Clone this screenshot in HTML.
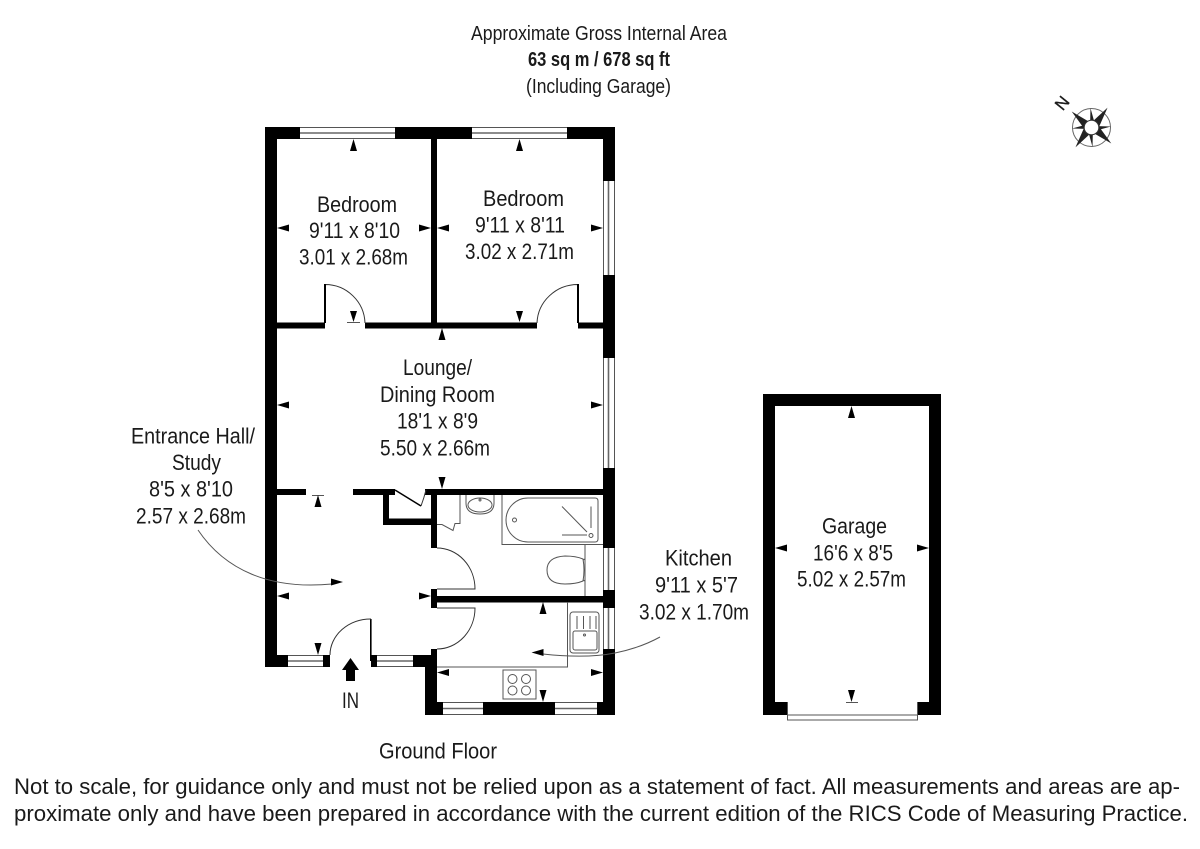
<!DOCTYPE html>
<html><head><meta charset="utf-8"><style>
html,body{margin:0;padding:0;background:#fff;width:1200px;height:849px;overflow:hidden}
svg{display:block}
text{font-family:"Liberation Sans",sans-serif;fill:#1a1a1a;font-size:22px}
.l{fill:none;stroke:#555;stroke-width:1}
.d{fill:none;stroke:#333;stroke-width:1}
.m{fill:none;stroke:#666;stroke-width:1.6}
</style></head><body>
<svg width="1200" height="849" viewBox="0 0 1200 849" xmlns="http://www.w3.org/2000/svg">
<!-- walls -->
<g fill="#000">
<rect x="265" y="127" width="350" height="12"/>
<rect x="265" y="127" width="12" height="540"/>
<rect x="603" y="127" width="12" height="588"/>
<rect x="431" y="139" width="6" height="187"/>
<rect x="277" y="322.5" width="48" height="6"/>
<rect x="365" y="322.5" width="172" height="6"/>
<rect x="578" y="322.5" width="25" height="6"/>
<rect x="277" y="489" width="29" height="6"/>
<rect x="353" y="489" width="42" height="6"/>
<rect x="425" y="489" width="178" height="6"/>
<rect x="383" y="495" width="6" height="30"/>
<rect x="383" y="518.5" width="54" height="6.5"/>
<rect x="431" y="495" width="6" height="53"/>
<rect x="431" y="589" width="6" height="19"/>
<rect x="431" y="596" width="172" height="6.5"/>
<rect x="431" y="649" width="6" height="10"/>
<rect x="265" y="655" width="65" height="12"/>
<rect x="371" y="655" width="66" height="12"/>
<rect x="425" y="655" width="12" height="60"/>
<rect x="425" y="702" width="190" height="13"/>
<path fill-rule="evenodd" d="M763 394H941V715H917V702H929V406H775V702H787V715H763Z"/>
<rect x="370" y="619" width="1.6" height="42"/>
</g>
<!-- windows -->
<g fill="#fff">
<rect x="300" y="127" width="95" height="12"/><rect x="472" y="127" width="95" height="12"/>
<rect x="603" y="181" width="12" height="94"/><rect x="603" y="358" width="12" height="110"/>
<rect x="603" y="548" width="12" height="42"/><rect x="603" y="608" width="12" height="41"/>
<rect x="288" y="655" width="35" height="12"/><rect x="377" y="655" width="36" height="12"/>
<rect x="443" y="702" width="40" height="13"/><rect x="555" y="702" width="42" height="13"/>
</g>
<g class="l">
<path d="M300 127.5H395M300 138.5H395M472 127.5H567M472 138.5H567"/>
<path d="M603.5 181V275M614.5 181V275M603.5 358V468M614.5 358V468"/>
<path d="M603.5 548V590M614.5 548V590M603.5 608V649M614.5 608V649"/>
<path d="M288 655.5H323M288 666.5H323M377 655.5H413M377 666.5H413"/>
<path d="M443 702.5H483M443 714.5H483M555 702.5H597M555 714.5H597"/>
<path d="M787.5 702V720H917.5V702M787 715H917"/>
</g>
<g class="m">
<path d="M300 133H395M472 133H567"/>
<path d="M608.5 181V275M608.5 358V468M608.5 548V590M608.5 608V649"/>
<path d="M288 661H323M377 661H413M443 708.5H483M555 708.5H597"/>
</g>
<!-- doors -->
<g class="d">
<path d="M325 323V284.5A40 40 0 0 1 365 323" />
<path d="M578 323V284.5A41 40 0 0 0 537 323" />
<path d="M437 548A38 41 0 0 1 475 589H437M437 649A38 41 0 0 0 475 608H437"/>
<path d="M371 619A41 36 0 0 0 330 655"/>
<path d="M421 506Q424 498 426 490"/>
</g>
<path d="M395 490L421 506" stroke="#000" stroke-width="1.5" fill="none"/>
<path d="M325 284V323M578 284V323" stroke="#000" stroke-width="2" fill="none"/>
<!-- fixtures -->
<g class="l">
<path d="M460 495V523.5H455L453 530.5L442 524.5H437"/>
<path d="M466 495V503Q466 514 480 514Q494 514 494 503V495"/>
<ellipse cx="480" cy="505" rx="12" ry="7"/>
<circle cx="480" cy="500" r="1"/>
<path d="M502 495V544.5H603M585 544.5V596"/>
<path d="M528 498H595Q598 498 598 501V539Q598 542 595 542H528A22 22 0 0 1 528 498Z"/>
<circle cx="514.5" cy="520" r="2"/><circle cx="591" cy="535.5" r="2"/>
<path d="M562 506.5L587 532M591 506.5V528M562 535H587"/>
<path d="M583 559Q576 556 565 556Q547 557 547 570Q547 584 565 584Q576 584 583 581Q585 570 583 559Z"/>
<path d="M583 560L585 559M583 580L585 581"/>
<path d="M567.5 602V667H437"/>
<rect x="570" y="612" width="29" height="41" rx="3"/>
<rect x="573" y="631" width="24" height="19" rx="2"/>
<path d="M577 616V629M583.5 616V629M590 616V629M596 616V629"/>
<circle cx="584.5" cy="635" r="1"/>
<rect x="503" y="670" width="33" height="29"/>
<circle cx="512.5" cy="679" r="4.5"/><circle cx="526" cy="679" r="4.5"/>
<circle cx="512.5" cy="690.5" r="4.5"/><circle cx="526" cy="690.5" r="4.5"/>
<path d="M198 530C225 570 270 590 332 584"/>
<path d="M543 654C570 657 595 657 615 653Q640 648 660 637"/>
<path d="M347 322.5H360M312 495.5H324M846 702.5H858"/>
</g>
<!-- dimension arrows -->
<g fill="#000">
<path d="M353.5 139l-3.5 12h7zM519.5 139l-3.5 12h7zM442 328l-3.5 12h7zM318 495l-3.5 12h7zM543 602l-3.5 12h7zM851.5 406l-3.5 12h7z"/>
<path d="M353.5 322l-3.5 -11h7zM519.5 322l-3.5 -11h7zM442 489l-3.5 -12h7zM318 655l-3.5 -12h7zM543 702l-3.5 -12h7zM851.5 702l-3.5 -12h7z"/>
<path d="M277 228l12 -3.5v7zM437 228l12 -3.5v7zM277 405l12 -3.5v7zM277 596l12 -3.5v7zM437 672.5l12 -3.5v7zM775 548l12 -3.5v7zM531.5 652.5l12 -3.5v7z"/>
<path d="M431 228l-12 -3.5v7zM603 228l-12 -3.5v7zM603 405l-12 -3.5v7zM431 596l-12 -3.5v7zM603 672.5l-12 -3.5v7zM929 548l-12 -3.5v7zM343 582l-12 -3.5v7z"/>
<path d="M350.5 658L359 670H355V681H346V670H342Z"/>
</g>
<!-- compass -->
<g transform="translate(1091.5 127.5)">
<circle r="19" fill="#fff" stroke="#666"/>
<g fill="#222">
<path d="M0 -19.500L3 -6H-1Z" transform="rotate(-3)"/>
<path d="M0 -19.500L3 -6H-1Z" transform="rotate(87)"/>
<path d="M0 -19.500L3 -6H-1Z" transform="rotate(177)"/>
<path d="M0 -19.500L3 -6H-1Z" transform="rotate(267)"/>
<path d="M0 -25.500L5.500 -5H-3Z" transform="rotate(39)"/>
<path d="M0 -25.500L-5.500 -5H3Z" transform="rotate(129)"/>
<path d="M0 -25.500L5.500 -5H-3Z" transform="rotate(219)"/>
<path d="M0 -25.500L-5.500 -5H3Z" transform="rotate(309)"/>
</g>
<circle r="7.3" fill="#fff" stroke="#333"/>
</g>
<text transform="translate(1062 103) rotate(-51)" text-anchor="middle" y="6" style="font-size:17px;stroke:#1a1a1a;stroke-width:.3">N</text>
<!-- labels -->
<text x="471" y="40" textLength="256" lengthAdjust="spacingAndGlyphs" style="font-size:20px">Approximate Gross Internal Area</text>
<text x="528" y="66" textLength="142" lengthAdjust="spacingAndGlyphs" font-weight="bold" style="font-size:20px">63 sq m / 678 sq ft</text>
<text x="526" y="93" textLength="145" lengthAdjust="spacingAndGlyphs" style="font-size:20px">(Including Garage)</text>
<text x="317" y="212" textLength="80" lengthAdjust="spacingAndGlyphs">Bedroom</text>
<text x="309" y="238" textLength="91" lengthAdjust="spacingAndGlyphs">9'11 x 8'10</text>
<text x="299" y="264.500" textLength="109" lengthAdjust="spacingAndGlyphs">3.01 x 2.68m</text>
<text x="483" y="206" textLength="81" lengthAdjust="spacingAndGlyphs">Bedroom</text>
<text x="475" y="232.500" textLength="90" lengthAdjust="spacingAndGlyphs">9'11 x 8'11</text>
<text x="465" y="259" textLength="109" lengthAdjust="spacingAndGlyphs">3.02 x 2.71m</text>
<text x="403" y="375" textLength="69" lengthAdjust="spacingAndGlyphs">Lounge/</text>
<text x="380" y="402" textLength="115" lengthAdjust="spacingAndGlyphs">Dining Room</text>
<text x="397" y="428.500" textLength="81" lengthAdjust="spacingAndGlyphs">18'1 x 8'9</text>
<text x="380" y="455.500" textLength="110" lengthAdjust="spacingAndGlyphs">5.50 x 2.66m</text>
<text x="131" y="443.500" textLength="124" lengthAdjust="spacingAndGlyphs">Entrance Hall/</text>
<text x="172" y="470" textLength="49" lengthAdjust="spacingAndGlyphs">Study</text>
<text x="149" y="496.500" textLength="84" lengthAdjust="spacingAndGlyphs">8'5 x 8'10</text>
<text x="136" y="523.500" textLength="110" lengthAdjust="spacingAndGlyphs">2.57 x 2.68m</text>
<text x="665" y="565.500" textLength="67" lengthAdjust="spacingAndGlyphs">Kitchen</text>
<text x="655" y="592.500" textLength="83" lengthAdjust="spacingAndGlyphs">9'11 x 5'7</text>
<text x="639" y="619.500" textLength="110" lengthAdjust="spacingAndGlyphs">3.02 x 1.70m</text>
<text x="822" y="533.500" textLength="65" lengthAdjust="spacingAndGlyphs">Garage</text>
<text x="813" y="560.500" textLength="80" lengthAdjust="spacingAndGlyphs">16'6 x 8'5</text>
<text x="797" y="586.500" textLength="109" lengthAdjust="spacingAndGlyphs">5.02 x 2.57m</text>
<text x="342" y="708" textLength="17" lengthAdjust="spacingAndGlyphs">IN</text>
<text x="379" y="758.500" textLength="118" lengthAdjust="spacingAndGlyphs">Ground Floor</text>
<text x="14" y="794" textLength="1166" lengthAdjust="spacingAndGlyphs">Not to scale, for guidance only and must not be relied upon as a statement of fact. All measurements and areas are ap-</text>
<text x="14" y="821" textLength="1174" lengthAdjust="spacingAndGlyphs">proximate only and have been prepared in accordance with the current edition of the RICS Code of Measuring Practice.</text>
</svg>
</body></html>
